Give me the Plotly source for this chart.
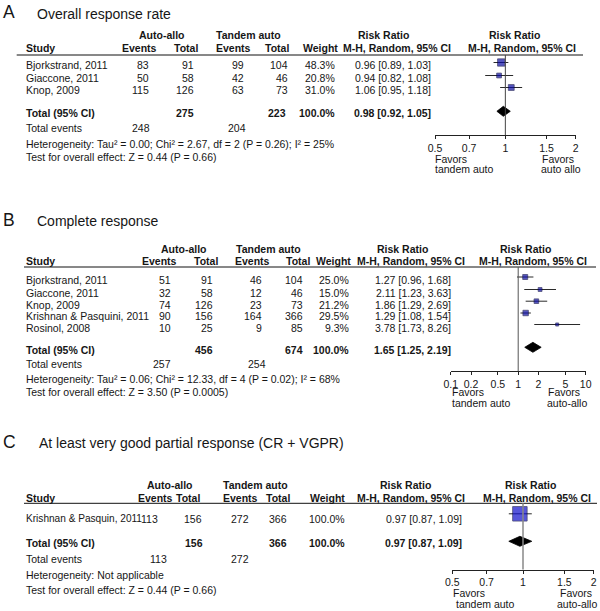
import math
import plotly.graph_objects as go

FONT = "Liberation Sans"
TXT = "#161616"
W, H = 600, 611

# ---------------- data: A  Overall response rate ----------------
A_study = ["Bjorkstrand, 2011", "Giaccone, 2011", "Knop, 2009"]
A_ev_aa = [83, 50, 115]
A_tot_aa = [91, 58, 126]
A_ev_ta = [99, 42, 63]
A_tot_ta = [104, 46, 73]
A_weight = [48.3, 20.8, 31.0]
A_rr = [0.96, 0.94, 1.06]
A_lo = [0.89, 0.82, 0.95]
A_hi = [1.03, 1.08, 1.18]
A_pooled = [0.98, 0.92, 1.05]
A_total_weight = 100.0
A_totals = [275, 223]
A_total_events = [248, 204]
A_ticks = [0.5, 0.7, 1, 1.5, 2]
A_ticklabels = ["0.5", "0.7", "1", "1.5", "2"]
A_het = "Heterogeneity: Tau² = 0.00; Chi² = 2.67, df = 2 (P = 0.26); I² = 25%"
A_test = "Test for overall effect: Z = 0.44 (P = 0.66)"

# ---------------- data: B  Complete response ----------------
B_study = ["Bjorkstrand, 2011", "Giaccone, 2011", "Knop, 2009",
           "Krishnan & Pasquini, 2011", "Rosinol, 2008"]
B_ev_aa = [51, 32, 74, 90, 10]
B_tot_aa = [91, 58, 126, 156, 25]
B_ev_ta = [46, 12, 23, 164, 9]
B_tot_ta = [104, 46, 73, 366, 85]
B_weight = [25.0, 15.0, 21.2, 29.5, 9.3]
B_rr = [1.27, 2.11, 1.86, 1.29, 3.78]
B_lo = [0.96, 1.23, 1.29, 1.08, 1.73]
B_hi = [1.68, 3.63, 2.69, 1.54, 8.26]
B_pooled = [1.65, 1.25, 2.19]
B_total_weight = 100.0
B_totals = [456, 674]
B_total_events = [257, 254]
B_ticks = [0.1, 0.2, 0.5, 1, 2, 5, 10]
B_ticklabels = ["0.1", "0.2", "0.5", "1", "2", "5", "10"]
B_het = "Heterogeneity: Tau² = 0.06; Chi² = 12.33, df = 4 (P = 0.02); I² = 68%"
B_test = "Test for overall effect: Z = 3.50 (P = 0.0005)"

# ---------------- data: C  At least VGPR ----------------
C_study = ["Krishnan & Pasquin, 2011"]
C_ev_aa = [113]
C_tot_aa = [156]
C_ev_ta = [272]
C_tot_ta = [366]
C_weight = [100.0]
C_rr = [0.97]
C_lo = [0.87]
C_hi = [1.09]
C_pooled = [0.97, 0.87, 1.09]
C_total_weight = 100.0
C_totals = [156, 366]
C_total_events = [113, 272]
C_ticks = [0.5, 0.7, 1, 1.5, 2]
C_ticklabels = ["0.5", "0.7", "1", "1.5", "2"]
C_het = "Heterogeneity: Not applicable"
C_test = "Test for overall effect: Z = 0.44 (P = 0.66)"

# ---------------- layout configuration (pixel positions) ----------------
panels = [
    dict(letter="A", title="Overall response rate", letter_y=12, title_x=36, title_y=13.5,
         grp_y=35, hdr_y=48.3, line_y=55, line_x=(16.7, 583),
         grp_x=(162, 248.5), hdr_x=(139, 186, 233, 277, 320),
         rr1=(383, 397), rr2=(514, 522),
         col_r=(150, 195, 245, 289), w_r=336, ci_r=432,
         rows=[65, 78, 90], tot_y=113, tot_r=(195, 287), ev_y=127.5, ev_r=(151, 247),
         het_y=144, test_y=156.7, mark_dy=-2.5, dia_dy=-1.7, size_k=1.05, study_size=10.5,
         ax=(435, 575.7), ax_y=135, fav_y=(158.5, 169), fav_l=(434, 434), fav_r=(541, 540),
         fav_txt=("Favors", "tandem auto", "Favors", "auto allo"),
         vline="#444444", vw=1, mcolor="#0c0ca4"),
    dict(letter="B", title="Complete response", letter_y=220, title_x=36, title_y=221,
         grp_y=248.8, hdr_y=260.8, line_y=267, line_x=(24, 596),
         grp_x=(184, 268.7), hdr_x=(159.3, 205.5, 252, 298, 333.5),
         rr1=(402, 411.3), rr2=(525, 533.3),
         col_r=(172, 214, 263, 304), w_r=350, ci_r=452,
         rows=[280.3, 292.8, 304.5, 316.3, 327.8], tot_y=350.3, tot_r=(214, 304),
         ev_y=363.7, ev_r=(172, 267),
         het_y=378.5, test_y=391.5, mark_dy=-3.3, dia_dy=-3, size_k=1.0, study_size=10.5,
         ax=(450.7, 585.7), ax_y=371, fav_y=(392, 403), fav_l=(451, 451), fav_r=(546.7, 545.7),
         fav_txt=("Favors", "tandem auto", "Favors", "auto-allo"),
         vline="#555555", vw=1, mcolor="#0c0ca4"),
    dict(letter="C", title="At least very good partial response (CR + VGPR)", letter_y=441.7,
         title_x=37.5, title_y=442.5,
         grp_y=484.8, hdr_y=497.8, line_y=503.3, line_x=(24, 597),
         grp_x=(169.7, 255.8), hdr_x=(155.5, 188, 240.5, 278.3, 327.5),
         rr1=(405.8, 411.3), rr2=(530.8, 537.2),
         col_r=(159.3, 203.3, 250, 288.3), w_r=345.7, ci_r=462.7,
         rows=[518.8], tot_y=543, tot_r=(204, 288.3), ev_y=558.8, ev_r=(168.3, 250),
         het_y=575.2, test_y=590.2, mark_dy=-5, dia_dy=-1.7, size_k=1.45, study_size=10.1,
         ax=(452.3, 593.7), ax_y=569.5, fav_y=(592.5, 604.3), fav_l=(452.3, 455), fav_r=(559.3, 556),
         fav_txt=("Favors", "tandem auto", "Favors", "auto-allo"),
         vline="#888888", vw=1.5, mcolor="#1010cc"),
]

datasets = [
    dict(study=A_study, ev_aa=A_ev_aa, tot_aa=A_tot_aa, ev_ta=A_ev_ta, tot_ta=A_tot_ta,
         weight=A_weight, rr=A_rr, lo=A_lo, hi=A_hi, pooled=A_pooled, tw=A_total_weight,
         totals=A_totals, tev=A_total_events, ticks=A_ticks, ticklabels=A_ticklabels,
         het=A_het, test=A_test),
    dict(study=B_study, ev_aa=B_ev_aa, tot_aa=B_tot_aa, ev_ta=B_ev_ta, tot_ta=B_tot_ta,
         weight=B_weight, rr=B_rr, lo=B_lo, hi=B_hi, pooled=B_pooled, tw=B_total_weight,
         totals=B_totals, tev=B_total_events, ticks=B_ticks, ticklabels=B_ticklabels,
         het=B_het, test=B_test),
    dict(study=C_study, ev_aa=C_ev_aa, tot_aa=C_tot_aa, ev_ta=C_ev_ta, tot_ta=C_tot_ta,
         weight=C_weight, rr=C_rr, lo=C_lo, hi=C_hi, pooled=C_pooled, tw=C_total_weight,
         totals=C_totals, tev=C_total_events, ticks=C_ticks, ticklabels=C_ticklabels,
         het=C_het, test=C_test),
]

fig = go.Figure()
ann = []
shapes = []


def txt(x, y, s, anchor="left", bold=False, size=10.5):
    ann.append(dict(x=x, y=y, xref="x", yref="y", text=(f"<b>{s}</b>" if bold else s),
                    showarrow=False, xanchor=anchor, yanchor="middle", borderpad=0,
                    font=dict(family=FONT, size=size, color=TXT)))


def ci_text(e, l, h):
    return f"{e:.2f} [{l:.2f}, {h:.2f}]"


layout_axes = {}
for i, (p, d) in enumerate(zip(panels, datasets)):
    txt(2, p["letter_y"], p["letter"], size=17.5)
    txt(p["title_x"], p["title_y"], p["title"], size=14)
    txt(p["grp_x"][0], p["grp_y"], "Auto-allo", "center", True)
    txt(p["grp_x"][1], p["grp_y"], "Tandem auto", "center", True)
    txt(25, p["hdr_y"], "Study", "left", True)
    for hx, lab in zip(p["hdr_x"], ["Events", "Total", "Events", "Total", "Weight"]):
        txt(hx, p["hdr_y"], lab, "center", True)
    txt(p["rr1"][0], p["grp_y"], "Risk Ratio", "center", True)
    txt(p["rr1"][1], p["hdr_y"], "M-H, Random, 95% CI", "center", True)
    txt(p["rr2"][0], p["grp_y"], "Risk Ratio", "center", True)
    txt(p["rr2"][1], p["hdr_y"], "M-H, Random, 95% CI", "center", True)
    shapes.append(dict(type="line", xref="x", yref="y", x0=p["line_x"][0], x1=p["line_x"][1],
                       y0=p["line_y"], y1=p["line_y"], line=dict(color="#111111", width=1)))
    for j, y in enumerate(p["rows"]):
        txt(25, y, d["study"][j], size=p["study_size"])
        vals = [d["ev_aa"][j], d["tot_aa"][j], d["ev_ta"][j], d["tot_ta"][j]]
        for cx, v in zip(p["col_r"], vals):
            txt(cx, y, str(v), "right")
        txt(p["w_r"], y, f"{d['weight'][j]:.1f}%", "right")
        txt(p["ci_r"], y, ci_text(d["rr"][j], d["lo"][j], d["hi"][j]), "right")
    txt(25, p["tot_y"], "Total (95% CI)", "left", True)
    txt(p["tot_r"][0], p["tot_y"], str(d["totals"][0]), "right", True)
    txt(p["tot_r"][1], p["tot_y"], str(d["totals"][1]), "right", True)
    txt(p["w_r"], p["tot_y"], f"{d['tw']:.1f}%", "right", True)
    txt(p["ci_r"], p["tot_y"], ci_text(*d["pooled"]), "right", True)
    txt(25, p["ev_y"], "Total events")
    txt(p["ev_r"][0], p["ev_y"], str(d["tev"][0]), "right")
    txt(p["ev_r"][1], p["ev_y"], str(d["tev"][1]), "right")
    txt(25, p["het_y"], d["het"])
    txt(25, p["test_y"], d["test"])
    ft = p["fav_txt"]
    txt(p["fav_l"][0], p["fav_y"][0], ft[0])
    txt(p["fav_l"][1], p["fav_y"][1], ft[1])
    txt(p["fav_r"][0], p["fav_y"][0], ft[2])
    txt(p["fav_r"][1], p["fav_y"][1], ft[3])

    xn = f"x{i + 2}"
    lo_t, hi_t = min(d["ticks"]), max(d["ticks"])
    rng = [math.log10(lo_t), math.log10(hi_t)]
    dom = [p["ax"][0] / W, p["ax"][1] / W]
    pos = 1 - p["ax_y"] / H
    layout_axes[f"xaxis{i + 2}"] = dict(
        type="log", domain=dom, range=rng, anchor="free", position=pos,
        showline=True, linecolor="#222222", linewidth=1, ticks="outside", ticklen=3,
        tickcolor="#222222", tickwidth=1, tickvals=d["ticks"], ticktext=d["ticklabels"],
        showgrid=False, zeroline=False, fixedrange=True, automargin=False,
        tickfont=dict(family=FONT, size=10.5, color=TXT))
    layout_axes[f"xaxis{i + 5}"] = dict(
        type="log", overlaying=xn, range=rng, anchor="free", position=pos,
        showline=False, ticks="inside", ticklen=3, tickcolor="#222222", tickwidth=1,
        tickvals=d["ticks"], showticklabels=False, showgrid=False, zeroline=False,
        automargin=False, fixedrange=True)
    shapes.append(dict(type="line", xref=xn, yref="y", x0=1, x1=1, y0=p["line_y"], y1=p["ax_y"],
                       line=dict(color=p["vline"], width=p["vw"])))
    cx, cy = [], []
    for j, y in enumerate(p["rows"]):
        cx += [d["lo"][j], d["hi"][j], None]
        cy += [y + p["mark_dy"], y + p["mark_dy"], None]
    fig.add_trace(go.Scatter(x=cx, y=cy, xaxis=xn, yaxis="y", mode="lines",
                             line=dict(color="#2a2a2a", width=1), hoverinfo="skip",
                             showlegend=False))
    fig.add_trace(go.Scatter(
        x=d["rr"], y=[y + p["mark_dy"] for y in p["rows"]], xaxis=xn, yaxis="y",
        mode="markers", showlegend=False, hoverinfo="skip",
        marker=dict(symbol="square", color=p["mcolor"],
                    size=[p["size_k"] * math.sqrt(w) for w in d["weight"]],
                    line=dict(color="#00003c", width=0.8))))
    e, l, h = d["pooled"]
    yc = p["tot_y"] + p["dia_dy"]
    fig.add_trace(go.Scatter(x=[l, e, h, e, l], y=[yc, yc - 5, yc, yc + 5, yc], xaxis=xn,
                             yaxis="y", mode="lines", fill="toself", fillcolor="#000000",
                             line=dict(color="#000000", width=0.8), hoverinfo="skip",
                             showlegend=False))

fig.update_layout(
    width=W, height=H, margin=dict(l=0, r=0, t=0, b=0, pad=0), autosize=False,
    paper_bgcolor="white", plot_bgcolor="rgba(0,0,0,0)",
    xaxis=dict(range=[0, W], domain=[0, 1], visible=False, fixedrange=True, automargin=False),
    yaxis=dict(range=[H, 0], domain=[0, 1], visible=False, fixedrange=True, automargin=False),
    annotations=ann, shapes=shapes, showlegend=False,
    **layout_axes,
)

fig.write_html("out.html", config={"displayModeBar": False},
               post_script="document.body.style.margin='0';document.body.style.overflow='hidden';")
